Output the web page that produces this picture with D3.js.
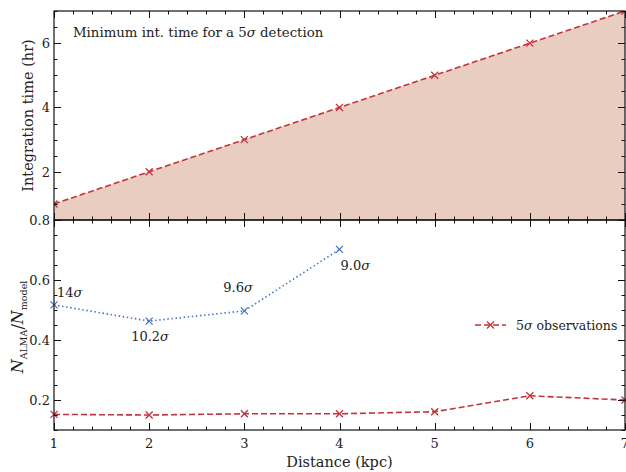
<!DOCTYPE html>
<html lang="en">
<head>
<meta charset="UTF-8">
<title>Integration time and detection fraction vs distance</title>
<script src="https://cdn.jsdelivr.net/npm/d3@7/dist/d3.min.js"></script>
<style>
* { margin: 0; padding: 0; }
body { background: #fff; }
</style>
</head>
<body>
<div id="chart"></div>
<script>
// Distance in kpc (shared x axis)
var distances = [1, 2, 3, 4, 5, 6, 7];
// Top panel: minimum integration time for a 5 sigma detection (hr)
var intTime = [1, 2, 3, 4, 5, 6, 7];
// Bottom panel: N_ALMA / N_model, 5 sigma observations
var ratio5sigma = [0.152, 0.150, 0.154, 0.154, 0.161, 0.214, 0.200];
// Bottom panel: dotted blue series with significance labels
var blueDist = [1, 2, 3, 4];
var blueRatio = [0.517, 0.463, 0.497, 0.702];
var blueLabels = ["14\u03c3", "10.2\u03c3", "9.6\u03c3", "9.0\u03c3"];

var xTicks = [1, 2, 3, 4, 5, 6, 7];
var topTicks = [2, 4, 6];
var bottomTicks = [0.2, 0.4, 0.6, 0.8];

var W = 626, H = 472;
var left = 54, right = 625;
var topY0 = 11, topY1 = 220, botY0 = 220, botY1 = 430;
var red = "#c4343e", blue = "#4677c0", fill = "#e8cdc0";
var FONT = "'DejaVu Serif', 'Liberation Serif', serif";

var svg = d3.select("#chart").append("svg").attr("width", W).attr("height", H)
  .attr("font-family", FONT).attr("fill", "#222");

var x = d3.scaleLinear().domain([1, 7]).range([left, right]);
var yTop = d3.scaleLinear().domain([0.5, 7]).range([topY1, topY0]);
var yBot = d3.scaleLinear().domain([0.1, 0.8]).range([botY1, botY0]);

function xMinor() { return d3.range(1, 7.001, 0.2); }

function drawTicks(g, scale, vals, orient, len, pos) {
  vals.forEach(function(v) {
    var p = Math.round(scale(v)) + 0.5;
    if (orient === "bottom") g.append("line").attr("x1", p).attr("x2", p).attr("y1", pos).attr("y2", pos - len);
    if (orient === "top") g.append("line").attr("x1", p).attr("x2", p).attr("y1", pos).attr("y2", pos + len);
    if (orient === "left") g.append("line").attr("y1", p).attr("y2", p).attr("x1", pos).attr("x2", pos + len);
    if (orient === "right") g.append("line").attr("y1", p).attr("y2", p).attr("x1", pos).attr("x2", pos - len);
  });
}

function panel(yScale, y0, y1, major, minor) {
  var g = svg.append("g").attr("stroke", "#111").attr("stroke-width", 1);
  drawTicks(g, x, xTicks, "bottom", 7, y1);
  drawTicks(g, x, xMinor(), "bottom", 3.5, y1);
  drawTicks(g, x, xTicks, "top", 7, y0);
  drawTicks(g, x, xMinor(), "top", 3.5, y0);
  drawTicks(g, yScale, major, "left", 7, left);
  drawTicks(g, yScale, minor, "left", 3.5, left);
  drawTicks(g, yScale, major, "right", 7, right);
  drawTicks(g, yScale, minor, "right", 3.5, right);
  svg.append("rect").attr("x", left).attr("y", y0).attr("width", right - left).attr("height", y1 - y0)
    .attr("fill", "none").attr("stroke", "#111").attr("stroke-width", 1.2);
}

function crosses(g, pts, color, s) {
  g.selectAll(null).data(pts).join("path")
    .attr("d", function(d) {
      var cx = d[0], cy = d[1];
      return "M" + (cx - s) + "," + (cy - s) + "L" + (cx + s) + "," + (cy + s) +
        "M" + (cx - s) + "," + (cy + s) + "L" + (cx + s) + "," + (cy - s);
    })
    .attr("stroke", color).attr("stroke-width", 1.3).attr("fill", "none");
}

// ---- top panel ----
var clipTop = svg.append("defs").append("clipPath").attr("id", "clipTop");
clipTop.append("rect").attr("x", left).attr("y", topY0).attr("width", right - left).attr("height", topY1 - topY0);
var gTop = svg.append("g").attr("clip-path", "url(#clipTop)");
var topData = distances.map(function(d, i) { return [d, intTime[i]]; });
gTop.append("path").datum(topData)
  .attr("d", d3.area().x(function(d) { return x(d[0]); }).y0(topY1).y1(function(d) { return yTop(d[1]); }))
  .attr("fill", fill);
gTop.append("path").datum(topData)
  .attr("d", d3.line().x(function(d) { return x(d[0]); }).y(function(d) { return yTop(d[1]); }))
  .attr("fill", "none").attr("stroke", red).attr("stroke-width", 1.6).attr("stroke-dasharray", "6,3");
crosses(gTop, topData.map(function(d) { return [x(d[0]), yTop(d[1])]; }), red, 3.5);

panel(yTop, topY0, topY1, topTicks, d3.range(0.5, 7.001, 0.5));

topTicks.forEach(function(v) {
  svg.append("text").attr("x", left - 4).attr("y", yTop(v) + 5).attr("text-anchor", "end")
    .attr("font-size", 13).text(v);
});
svg.append("text").attr("x", 73).attr("y", 37).attr("font-size", 13.3)
  .html("Minimum int. time for a 5<tspan font-style='italic'>\u03c3</tspan> detection");
svg.append("text").attr("transform", "translate(33," + ((topY0 + topY1) / 2) + ") rotate(-90)")
  .attr("text-anchor", "middle").attr("font-size", 14.5).text("Integration time (hr)");

// ---- bottom panel ----
var clipBot = svg.select("defs").append("clipPath").attr("id", "clipBot");
clipBot.append("rect").attr("x", left - 6).attr("y", botY0).attr("width", right - left + 12).attr("height", botY1 - botY0);
var gBot = svg.append("g").attr("clip-path", "url(#clipBot)");
var blueData = blueDist.map(function(d, i) { return [d, blueRatio[i]]; });
gBot.append("path").datum(blueData)
  .attr("d", d3.line().x(function(d) { return x(d[0]); }).y(function(d) { return yBot(d[1]); }))
  .attr("fill", "none").attr("stroke", blue).attr("stroke-width", 1.6).attr("stroke-dasharray", "1.5,2.6");
crosses(gBot, blueData.map(function(d) { return [x(d[0]), yBot(d[1])]; }), blue, 3.5);
var redData = distances.map(function(d, i) { return [d, ratio5sigma[i]]; });
gBot.append("path").datum(redData)
  .attr("d", d3.line().x(function(d) { return x(d[0]); }).y(function(d) { return yBot(d[1]); }))
  .attr("fill", "none").attr("stroke", red).attr("stroke-width", 1.6).attr("stroke-dasharray", "6,3");
crosses(gBot, redData.map(function(d) { return [x(d[0]), yBot(d[1])]; }), red, 3.5);

panel(yBot, botY0, botY1, bottomTicks, d3.range(0.1, 0.8001, 0.05));

bottomTicks.forEach(function(v) {
  svg.append("text").attr("x", left - 4).attr("y", yBot(v) + 5).attr("text-anchor", "end")
    .attr("font-size", 13).text(v.toFixed(1));
});

// significance labels next to blue points
var labelOffsets = [[3, -8], [-18, 20], [-21, -19], [1, 21]];
blueLabels.forEach(function(t, i) {
  var o = labelOffsets[i];
  var num = t.slice(0, -1);
  svg.append("text").attr("x", x(blueDist[i]) + o[0]).attr("y", yBot(blueRatio[i]) + o[1])
    .attr("font-size", 13)
    .html(num + "<tspan font-style='italic'>\u03c3</tspan>");
});

// legend
var lg = svg.append("g");
lg.append("line").attr("x1", 475).attr("x2", 506).attr("y1", 325).attr("y2", 325)
  .attr("stroke", red).attr("stroke-width", 1.6).attr("stroke-dasharray", "6,3");
crosses(lg, [[490.5, 325]], red, 3.5);
lg.append("text").attr("x", 516).attr("y", 330).attr("font-size", 12.5)
  .html("5<tspan font-style='italic'>\u03c3</tspan> observations");

// x tick labels and label
xTicks.forEach(function(v) {
  svg.append("text").attr("x", x(v)).attr("y", botY1 + 18).attr("text-anchor", "middle")
    .attr("font-size", 13).text(v);
});
svg.append("text").attr("x", (left + right) / 2).attr("y", 467).attr("text-anchor", "middle")
  .attr("font-size", 14.5).text("Distance (kpc)");

// y label for bottom panel: N_ALMA / N_model
svg.append("text").attr("transform", "translate(23," + ((botY0 + botY1) / 2 + 2) + ") rotate(-90)")
  .attr("text-anchor", "middle").attr("font-size", 16)
  .html("<tspan font-style='italic'>N</tspan><tspan font-size='9.5' dy='4'>ALMA</tspan>" +
    "<tspan dy='-4'>/</tspan><tspan font-style='italic'>N</tspan><tspan font-size='9.5' dy='4'>model</tspan>");
</script>
</body>
</html>
